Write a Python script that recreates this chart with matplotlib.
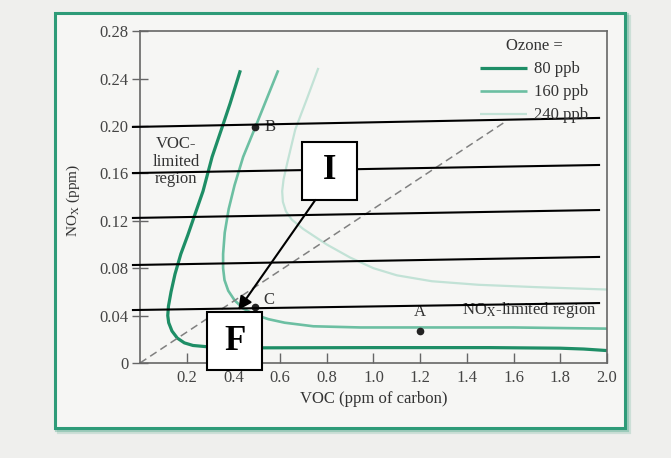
import matplotlib
matplotlib.use("Agg")
import matplotlib.pyplot as plt
from matplotlib.patches import Rectangle

plt.rcParams['font.family'] = ['Liberation Serif', 'DejaVu Serif']
plt.rcParams['mathtext.fontset'] = 'stix'

# ozone isopleths (VOC in ppm C, NOx in ppm)
voc_80 = [0.430, 0.386, 0.352, 0.309, 0.270, 0.240, 0.205, 0.175, 0.150, 0.133, 0.122,
          0.119, 0.123, 0.137, 0.160, 0.190, 0.227, 0.300, 0.500, 1.000, 1.500, 1.800,
          1.900, 2.000]
nox_80 = [0.247, 0.219, 0.199, 0.174, 0.145, 0.128, 0.108, 0.092, 0.075, 0.060, 0.048,
          0.040, 0.034, 0.027, 0.021, 0.017, 0.0148, 0.0135, 0.0128, 0.013, 0.013, 0.0125,
          0.0118, 0.0105]
voc_160 = [0.592, 0.545, 0.494, 0.442, 0.405, 0.380, 0.363, 0.356, 0.356, 0.362, 0.378,
           0.405, 0.442, 0.490, 0.550, 0.620, 0.742, 0.944, 1.200, 1.600, 2.000]
nox_160 = [0.247, 0.224, 0.199, 0.174, 0.150, 0.130, 0.110, 0.092, 0.080, 0.070, 0.061,
           0.053, 0.046, 0.041, 0.037, 0.034, 0.031, 0.030, 0.030, 0.030, 0.029]
voc_240 = [0.764, 0.717, 0.665, 0.631, 0.615, 0.609, 0.612, 0.625, 0.650, 0.700, 0.800,
           0.900, 1.000, 1.100, 1.250, 1.450, 1.700, 2.000]
nox_240 = [0.249, 0.224, 0.197, 0.169, 0.155, 0.145, 0.136, 0.128, 0.121, 0.113, 0.100,
           0.089, 0.080, 0.074, 0.069, 0.066, 0.064, 0.062]
ozone_labels = ['80 ppb', '160 ppb', '240 ppb']
ozone_colors = ['#1e8e66', '#6cbfa2', '#c2e2d6']

# marked points
pt_names = ['A', 'B', 'C']
pt_voc = [1.20, 0.494, 0.494]
pt_nox = [0.027, 0.199, 0.047]

# diagonal VOC/NOx ratio line
ratio_voc = [0.0, 1.56]
ratio_nox = [0.0, 0.203]

# overlaid black guide lines (slightly tilted in the scan)
guide_x = [-0.03, 1.966]
guide_left = [0.1992, 0.1603, 0.1224, 0.0827, 0.0447]
guide_right = [0.2068, 0.1671, 0.1291, 0.0895, 0.0506]

xticks = [0.2, 0.4, 0.6, 0.8, 1.0, 1.2, 1.4, 1.6, 1.8, 2.0]
yticks = [0, 0.04, 0.08, 0.12, 0.16, 0.20, 0.24, 0.28]
ytick_labels = ['0', '0.04', '0.08', '0.12', '0.16', '0.20', '0.24', '0.28']

fig = plt.figure(figsize=(6.71, 4.58), dpi=100, facecolor='#efefed')

# green frame with soft shadow
for off, a in [(0.006, 0.18), (0.003, 0.3)]:
    fig.patches.append(Rectangle((0.082 + off, 0.0655 - off * 1.4), 0.8495, 0.906,
                                 transform=fig.transFigure, fill=False,
                                 ec='#2e9b78', lw=3, alpha=a, zorder=-2))
fig.patches.append(Rectangle((0.082, 0.0655), 0.8495, 0.906, transform=fig.transFigure,
                             fc='#f6f6f4', ec='#2e9b78', lw=2.2, zorder=-1))

ax = fig.add_axes([0.2086, 0.2074, 0.696, 0.7245])
ax.set_facecolor('none')

lws = [2.3, 1.9, 1.6]
for xs, ys, c, lab, lw in zip([voc_80, voc_160, voc_240], [nox_80, nox_160, nox_240],
                              ozone_colors, ozone_labels, lws):
    ax.plot(xs, ys, color=c, lw=lw, label=lab, solid_capstyle='butt',
            solid_joinstyle='round')

ax.plot(ratio_voc, ratio_nox, color='#808080', lw=1.1, dashes=(5, 3))

ax.plot(pt_voc, pt_nox, 'o', color='#222222', ms=4.5, zorder=4)
ax.text(pt_voc[0], pt_nox[0] + 0.009, 'A', ha='center', va='bottom', fontsize=12, color='#333')
ax.text(pt_voc[1] + 0.04, pt_nox[1], 'B', ha='left', va='center', fontsize=12, color='#333')
ax.text(pt_voc[2] + 0.035, pt_nox[2] + 0.006, 'C', ha='left', va='center', fontsize=12, color='#333')

ax.text(0.155, 0.170, 'VOC-\nlimited\nregion', ha='center', va='center',
        fontsize=12, color='#333', linespacing=1.15)
ax.text(1.665, 0.045, r'NO$_\mathrm{X}$-limited region', ha='center', va='center',
        fontsize=12, color='#333')

for yl, yr in zip(guide_left, guide_right):
    ax.plot(guide_x, [yl, yr], color='black', lw=1.5, clip_on=False, zorder=5)

# I and F boxes with arrow
for x0, y0, s in [(0.695, 0.1376, 'I'), (0.288, -0.006, 'F')]:
    ax.add_patch(Rectangle((x0, y0), 0.236, 0.049, fc='white', ec='black', lw=1.5,
                           clip_on=False, zorder=6))
    ax.text(x0 + 0.118, y0 + 0.0245, s, ha='center', va='center', fontsize=25,
            fontweight='bold', zorder=7)
ax.annotate('', xy=(0.421, 0.0447), xytext=(0.751, 0.1376),
            arrowprops=dict(arrowstyle='-|>', color='black', lw=1.5, mutation_scale=20,
                            shrinkA=0, shrinkB=0), annotation_clip=False, zorder=8)

ax.set_xlim(0, 2.0)
ax.set_ylim(0, 0.28)
ax.set_xticks(xticks)
ax.set_xticklabels([f'{v:.1f}' for v in xticks])
ax.set_yticks(yticks)
ax.set_yticklabels(ytick_labels)
ax.tick_params(axis='x', direction='in', length=7, width=1, color='#666',
               labelsize=12, labelcolor='#444', pad=5)
ax.tick_params(axis='y', direction='inout', length=11, width=1, color='#666',
               labelsize=12, labelcolor='#444', pad=3)
for sp in ax.spines.values():
    sp.set_color('#666')
    sp.set_linewidth(1.2)

ax.set_xlabel('VOC (ppm of carbon)', fontsize=12, color='#333')
ax.xaxis.set_label_coords(0.501, -0.084)
ax.set_ylabel(r'NO$_\mathrm{X}$ (ppm)', fontsize=11, color='#333')
ax.yaxis.set_label_coords(-0.124, 0.491)

leg = ax.legend(title='Ozone =', loc='upper right', bbox_to_anchor=(0.959, 0.978),
                frameon=False, fontsize=12, title_fontsize=12, handlelength=2.8,
                handletextpad=0.4, labelspacing=0.42, borderpad=0, borderaxespad=0)
for t in leg.get_texts():
    t.set_color('#333')
leg.get_title().set_color('#333')

fig.savefig('out.png', dpi=100, facecolor=fig.get_facecolor())
